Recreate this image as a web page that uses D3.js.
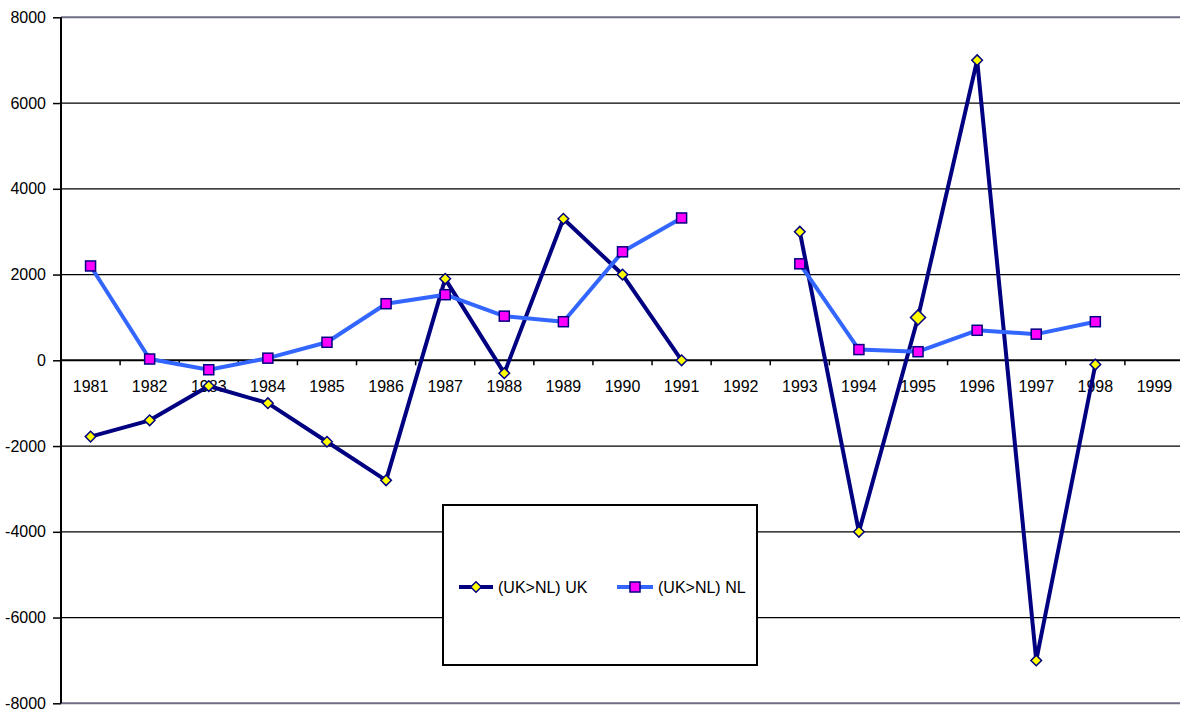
<!DOCTYPE html>
<html>
<head>
<meta charset="utf-8">
<script src="https://cdn.jsdelivr.net/npm/d3@7"></script>
<style>
  html, body { margin: 0; padding: 0; background: #fff; }
  svg { display: block; font-family: "Liberation Sans", Arial, sans-serif; }
</style>
</head>
<body>
<svg id="chart" width="1180" height="713"></svg>
<script>
// Years on the category axis
const years = ["1981","1982","1983","1984","1985","1986","1987","1988","1989","1990",
               "1991","1992","1993","1994","1995","1996","1997","1998","1999"];

// (UK>NL) UK series; null = no value for that year
const ukValues = [-1780, -1400, -600, -1000, -1900, -2800, 1900, -300, 3300, 2000,
                  0, null, 3000, -4000, 1000, 7000, -7000, -100, null];

// (UK>NL) NL series
const nlValues = [2200, 30, -220, 50, 420, 1320, 1530, 1030, 900, 2530,
                  3320, null, 2250, 250, 200, 700, 610, 900, null];

// Value axis ticks
const yTicks = [-8000, -6000, -4000, -2000, 0, 2000, 4000, 6000, 8000];

const seriesNames = ["(UK>NL) UK", "(UK>NL) NL"];

const svg = d3.select("#chart");
const plot = { left: 61, right: 1180, bandRight: 1184, top: 17.3, bottom: 703.3 };

const x = d3.scaleBand().domain(years).range([plot.left, plot.bandRight]).paddingInner(0).paddingOuter(0);
const y = d3.scaleLinear().domain([-8000, 8000]).range([plot.bottom, plot.top]);

// Horizontal gridlines
svg.append("g").selectAll("line")
  .data(yTicks.filter(t => t !== 0))
  .join("line")
  .attr("x1", plot.left).attr("x2", plot.right)
  .attr("y1", d => y(d)).attr("y2", d => y(d))
  .attr("stroke", d => (Math.abs(d) === 8000 ? "#6e6e86" : "#000"))
  .attr("stroke-width", d => (Math.abs(d) === 8000 ? 2 : 1.3));

// Value axis
const yAxis = svg.append("g")
  .attr("transform", `translate(${plot.left},0)`)
  .call(d3.axisLeft(y).tickValues(yTicks).tickSize(8).tickPadding(7).tickFormat(d => String(d)));
yAxis.select(".domain").attr("stroke", "#000").attr("stroke-width", 2)
  .attr("d", `M0,${plot.top}V${plot.bottom}`);
yAxis.selectAll(".tick line").attr("stroke", "#000").attr("stroke-width", 1.5);
yAxis.selectAll(".tick text").attr("font-size", 16).attr("fill", "#000");

// Category axis along the zero line
const xAxis = svg.append("g")
  .attr("transform", `translate(0,${y(0)})`)
  .call(d3.axisBottom(x).tickSize(0).tickPadding(20));
xAxis.select(".domain").attr("stroke", "#000").attr("stroke-width", 2)
  .attr("d", `M${plot.left},0H${plot.right}`);
xAxis.selectAll(".tick text").attr("font-size", 16).attr("fill", "#000");

// Tick marks between categories
xAxis.append("g").selectAll("line")
  .data(years.slice(1))
  .join("line")
  .attr("x1", d => x(d)).attr("x2", d => x(d))
  .attr("y1", 0).attr("y2", 5)
  .attr("stroke", "#000").attr("stroke-width", 1.5);

const cx = d => x(d) + x.bandwidth() / 2;

const line = d3.line()
  .defined(d => d.v !== null)
  .x(d => cx(d.year))
  .y(d => y(d.v));

const ukData = years.map((yr, i) => ({ year: yr, v: ukValues[i] }));
const nlData = years.map((yr, i) => ({ year: yr, v: nlValues[i] }));

const navy = "#000080";
const blue = "#3366FF";

const diamond = (s) => `M0,${-s}L${s},0L0,${s}L${-s},0Z`;

// UK series
svg.append("path").datum(ukData)
  .attr("d", line).attr("fill", "none")
  .attr("stroke", navy).attr("stroke-width", 4).attr("stroke-linejoin", "round");

// NL series
svg.append("path").datum(nlData)
  .attr("d", line).attr("fill", "none")
  .attr("stroke", blue).attr("stroke-width", 4).attr("stroke-linejoin", "round");

// UK markers (the 1995 point is drawn enlarged)
const bigYear = "1995";
svg.append("g").selectAll("path")
  .data(ukData.filter(d => d.v !== null))
  .join("path")
  .attr("transform", d => `translate(${cx(d.year)},${y(d.v)})`)
  .attr("d", d => diamond(d.year === bigYear ? 7.5 : 5.3))
  .attr("fill", "#FFFF00").attr("stroke", navy).attr("stroke-width", 1.5);

// NL markers
svg.append("g").selectAll("rect")
  .data(nlData.filter(d => d.v !== null))
  .join("rect")
  .attr("x", d => cx(d.year) - 5).attr("y", d => y(d.v) - 5)
  .attr("width", 10).attr("height", 10)
  .attr("fill", "#FF00FF").attr("stroke", navy).attr("stroke-width", 1.5);

// Legend
const legend = svg.append("g");
legend.append("rect")
  .attr("x", 443).attr("y", 505).attr("width", 314).attr("height", 160)
  .attr("fill", "#fff").attr("stroke", "#000").attr("stroke-width", 2);

const legendY = 587;
const items = [
  { name: seriesNames[0], x0: 459, x1: 493, color: navy, marker: "diamond" },
  { name: seriesNames[1], x0: 617, x1: 653, color: blue, marker: "square" }
];
items.forEach(it => {
  const mid = (it.x0 + it.x1) / 2;
  legend.append("line")
    .attr("x1", it.x0).attr("x2", it.x1).attr("y1", legendY).attr("y2", legendY)
    .attr("stroke", it.color).attr("stroke-width", 4);
  if (it.marker === "diamond") {
    legend.append("path").attr("transform", `translate(${mid},${legendY})`)
      .attr("d", diamond(5.3)).attr("fill", "#FFFF00").attr("stroke", navy).attr("stroke-width", 1.5);
  } else {
    legend.append("rect").attr("x", mid - 5).attr("y", legendY - 5).attr("width", 10).attr("height", 10)
      .attr("fill", "#FF00FF").attr("stroke", navy).attr("stroke-width", 1.5);
  }
  legend.append("text")
    .attr("x", it.x1 + 5).attr("y", legendY).attr("dy", "0.35em")
    .attr("font-size", 16).attr("fill", "#000").text(it.name);
});
</script>
</body>
</html>
